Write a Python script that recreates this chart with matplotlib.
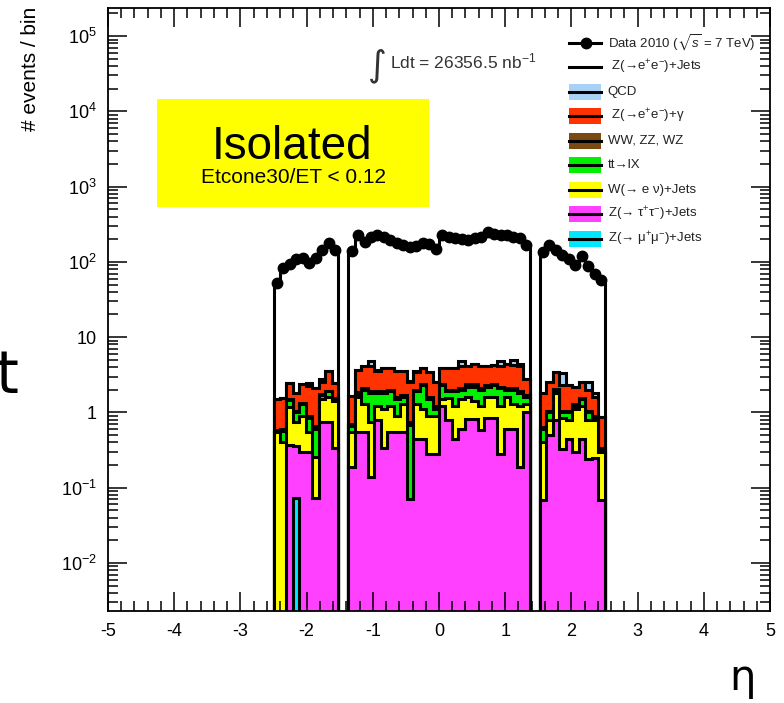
import numpy as np
import matplotlib
matplotlib.use('Agg')
from matplotlib import pyplot as plt
from matplotlib.patches import Rectangle
from matplotlib.lines import Line2D
from matplotlib.ticker import FixedLocator, LogLocator, NullFormatter

plt.rcParams['font.family'] = ['Liberation Sans', 'DejaVu Sans']
plt.rcParams['mathtext.fontset'] = 'custom'
plt.rcParams['mathtext.rm'] = 'Liberation Sans'
plt.rcParams['mathtext.it'] = 'Liberation Sans:italic'
plt.rcParams['mathtext.bf'] = 'Liberation Sans:bold'
plt.rcParams['mathtext.fallback'] = 'stixsans'
plt.rcParams['axes.unicode_minus'] = False

# eta binning: barrel and the two endcaps, crack regions left empty
left_edges = np.linspace(-2.5, -1.52, 11)
central_edges = np.linspace(-1.37, 1.37, 29)
right_edges = np.linspace(1.52, 2.5, 11)

# data 2010
data_l = [52, 84, 95, 108, 112, 96, 112, 145, 180, 142]
data_c = [140, 225, 185, 215, 225, 212, 195, 180, 170, 158, 165, 180, 172, 150,
          225, 212, 205, 200, 195, 205, 215, 248, 236, 225, 230, 215, 210, 168]
data_r = [135, 168, 145, 125, 108, 92, 118, 88, 70, 57]

# Z->ee + jets
zee_l = [49, 80, 92, 106, 109, 95, 110, 142, 176, 140]
zee_c = [137, 220, 183, 211, 221, 208, 192, 177, 167, 156, 162, 177, 169, 148,
         221, 208, 201, 196, 192, 201, 211, 243, 232, 221, 226, 211, 206, 165]
zee_r = [133, 165, 141, 122, 105, 90, 115, 86, 68, 56]

# QCD
qcd_l = [0, 0, 0, 0, 0, 0.21, 0, 0.25, 0, 0]
qcd_c = [0, 0, 0, 0.70, 0.15, 0, 0, 0, 0, 0.15, 0.15, 0, 0, 0,
         0, 0, 0, 0.70, 0, 0, 0, 0, 0, 0.70, 0, 0.70, 0.30, 0]
qcd_r = [0, 0, 0, 1.08, 0, 0, 0, 0.50, 0.20, 0]

# Z->ee + gamma
zgam_l = [0.90, 0.95, 0.99, 0.78, 1.01, 1.34, 1.48, 0.75, 1.60, 0.94]
zgam_c = [0.95, 1.85, 2.00, 2.20, 1.60, 2.00, 1.90, 1.95, 1.80, 1.75, 1.40, 1.50, 1.80, 1.30,
          1.50, 1.90, 1.90, 2.00, 1.75, 2.05, 2.00, 1.80, 1.90, 1.90, 2.30, 2.20, 2.20, 1.05]
zgam_r = [1.18, 1.45, 1.35, 1.25, 1.25, 0.90, 0.95, 0.95, 0.70, 0.52]

# WW, ZZ, WZ
dib_l = [0.04, 0.04, 0.05, 0.05, 0.05, 0.05, 0.05, 0.05, 0.05, 0.05]
dib_c = [0.05, 0.10, 0.10, 0.10, 0.10, 0.10, 0.10, 0.10, 0.10, 0.06, 0.10, 0.10, 0.10, 0.10,
         0.10, 0.10, 0.10, 0.10, 0.15, 0.15, 0.10, 0.10, 0.10, 0.10, 0.10, 0.10, 0.10, 0.10]
dib_r = [0.05, 0.05, 0.05, 0.05, 0.05, 0.10, 0.05, 0.05, 0.05, 0.02]

# ttbar
tt_l = [0, 0.15, 0.28, 0.25, 0.40, 0.30, 0.35, 0.20, 0.30, 0.10]
tt_c = [0.10, 0.15, 0.70, 1.05, 0.60, 0.70, 0.70, 0.60, 0.30, 0.62, 0.60, 1.20, 0.60, 0.20,
        0.80, 0.35, 0.70, 0.50, 0.60, 0.80, 0.80, 0.60, 0.70, 0.90, 0.40, 0.70, 0.60, 0.30]
tt_r = [0.20, 0.20, 0.20, 0.15, 0.20, 0.10, 0.30, 0.20, 0.05, 0.02]

# W->enu + jets
wenu_l = [0.55, 0.41, 0.80, 0.40, 0.60, 0.25, 0.18, 0.75, 0.85, 1.06]
wenu_c = [0.36, 1.05, 0.75, 0.61, 0.40, 0.76, 0.65, 0.35, 0.75, 0.00, 0.86, 0.66, 0.62, 0.62,
          0.30, 0.75, 0.75, 0.90, 0.79, 0.59, 0.61, 0.75, 0.75, 0.92, 1.00, 0.70, 1.01, 0.30]
wenu_r = [0.33, 0.30, 1.00, 0.52, 0.35, 0.80, 0.75, 0.56, 0.55, 0.23]

# Z->tautau + jets
ztt_l = [0, 0, 0.37, 0.28, 0.30, 0.30, 0.074, 0.75, 0.75, 0.34]
ztt_c = [0.19, 0.55, 0.55, 0.14, 0.80, 0.34, 0.55, 0.55, 0.55, 0.07, 0.44, 0.44, 0.28, 0.28,
         1.20, 0.80, 0.45, 0.60, 0.81, 0.81, 0.59, 0.85, 0.85, 0.28, 0.60, 0.60, 0.19, 1.00]
ztt_r = [0.069, 0.50, 0.80, 0.33, 0.45, 0.30, 0.45, 0.24, 0.25, 0.069]

# Z->mumu + jets
zmm_l = [0, 0, 0, 0.074, 0, 0, 0, 0, 0, 0]
zmm_c = [0] * 28
zmm_r = [0] * 10

labels = [r'Data 2010 ($\sqrt{s}$ = 7 TeV)',
          ' Z(\u2192e$^{+}$e$^{-}$)+Jets',
          'QCD',
          ' Z(\u2192e$^{+}$e$^{-}$)+\u03b3',
          'WW, ZZ, WZ',
          'tt\u2192lX',
          'W(\u2192 e \u03bd)+Jets',
          'Z(\u2192 \u03c4$^{+}$\u03c4$^{-}$)+Jets',
          'Z(\u2192 \u03bc$^{+}$\u03bc$^{-}$)+Jets']

c_qcd = '#a8d2f5'
c_zgam = '#ff3300'
c_dib = '#7a4a12'
c_tt = '#00f000'
c_wenu = '#ffff00'
c_ztt = '#ff40ff'
c_zmm = '#00e8ff'


def full(l, c, r):
    return np.concatenate([l, [0], c, [0], r]).astype(float)


edges = np.concatenate([left_edges, central_edges, right_edges])
centers = 0.5 * (edges[:-1] + edges[1:])
halfw = 0.5 * np.diff(edges)

data = full(data_l, data_c, data_r)
# stack from bottom to top
stack = [full(zmm_l, zmm_c, zmm_r), full(ztt_l, ztt_c, ztt_r),
         full(wenu_l, wenu_c, wenu_r), full(tt_l, tt_c, tt_r),
         full(dib_l, dib_c, dib_r), full(zgam_l, zgam_c, zgam_r),
         full(qcd_l, qcd_c, qcd_r), full(zee_l, zee_c, zee_r)]
colors = [c_zmm, c_ztt, c_wenu, c_tt, c_dib, c_zgam, c_qcd, 'white']
cum = np.cumsum(np.vstack(stack), axis=0)

fig = plt.figure(figsize=(7.84, 7.03), dpi=100)
ax = fig.add_axes([108 / 784, 92 / 703, 662 / 784, 603 / 703])
ax.set_yscale('log')
ax.set_xlim(-5, 5)
ax.set_ylim(2.3e-3, 2.36e5)

floor = 1e-4
for k in reversed(range(len(stack))):
    vals = np.where(cum[k] > 0, cum[k], floor)
    ax.stairs(vals, edges, baseline=floor, fill=True, facecolor=colors[k],
              edgecolor='black', linewidth=2.2, zorder=1)

sel = data > 0
ax.errorbar(centers[sel], data[sel], xerr=halfw[sel], yerr=np.sqrt(data[sel]),
            fmt='o', color='black', ms=7.5, elinewidth=2.6, capsize=0, zorder=3)

# axes and ticks
for s in ax.spines.values():
    s.set_linewidth(1.3)
ax.xaxis.set_minor_locator(FixedLocator(np.arange(-5, 5.01, 0.2)))
ax.set_xticks(np.arange(-5, 6, 1), [str(v) for v in range(-5, 6)])
decades = [1e-2, 1e-1, 1, 10, 1e2, 1e3, 1e4, 1e5]
dec_labels = [r'$10^{-2}$', r'$10^{-1}$', '1', '10',
              r'$10^{2}$', r'$10^{3}$', r'$10^{4}$', r'$10^{5}$']
ax.set_yticks(decades, dec_labels)
ax.yaxis.set_minor_locator(LogLocator(base=10, subs=np.arange(2, 10), numticks=20))
ax.yaxis.set_minor_formatter(NullFormatter())
ax.tick_params(which='both', direction='in', top=True, right=True,
               width=1.1, labelsize=13, color='black')
ax.tick_params(which='major', length=13.5)
ax.tick_params(which='minor', length=7)
ax.tick_params(axis='x', pad=9)
ax.tick_params(axis='y', pad=8)

fig.text(31 / 784, 1 - 7 / 703, '# events / bin', rotation=90,
         ha='center', va='top', fontsize=15)

# selection box
fig.add_artist(Rectangle((157 / 784, 1 - 207 / 703), 272 / 784, 108 / 703,
                         transform=fig.transFigure, facecolor='#ffff00',
                         edgecolor='none', zorder=1))
fig.text(292.5 / 784, 1 - 159 / 703, 'Isolated', ha='center', va='baseline',
         fontsize=33, zorder=2)
fig.text(293.5 / 784, 1 - 183 / 703, 'Etcone30/ET < 0.12', ha='center',
         va='baseline', fontsize=15, zorder=2)

# luminosity
fig.text(387 / 784, 1 - 75 / 703, '\u222b', fontsize=26, family='DejaVu Sans',
         color='#333333', ha='right', va='baseline')
fig.text(390 / 784, 1 - 68 / 703, r'Ldt = 26356.5 nb$^{-1}$', fontsize=12.5,
         color='#333333', ha='left', va='baseline')

# legend
row0, dy = 42.7, 24.5
bx0, bx1, bh = 569, 601, 16
W, H = 784.0, 703.0
for i, lab in enumerate(labels):
    yc = row0 + dy * i
    yf = 1 - yc / H
    if i >= 2:
        fc = [c_qcd, c_zgam, c_dib, c_tt, c_wenu, c_ztt, c_zmm][i - 2]
        fig.add_artist(Rectangle((bx0 / W, 1 - (yc + bh / 2) / H), (bx1 - bx0) / W, bh / H,
                                 transform=fig.transFigure, facecolor=fc,
                                 edgecolor='none'))
    fig.add_artist(Line2D([bx0 / W, bx1 / W], [yf, yf], transform=fig.transFigure,
                          color='black', lw=2.2))
    if i == 0:
        fig.add_artist(Line2D([586 / W], [yf], transform=fig.transFigure,
                              marker='o', ms=7.5, color='black'))
    fig.text(607.5 / W, yf, lab, ha='left', va='center', fontsize=9.5, color='#222222')

# axis title and stray slide text
fig.text(742 / W, 1 - 678 / H, '\u03b7', family='DejaVu Sans', fontsize=30,
         ha='center', va='center')
fig.text(18 / W, 1 - 393 / H, 't', family='DejaVu Sans', fontsize=42,
         ha='right', va='baseline')

fig.savefig('out.png', dpi=100)
